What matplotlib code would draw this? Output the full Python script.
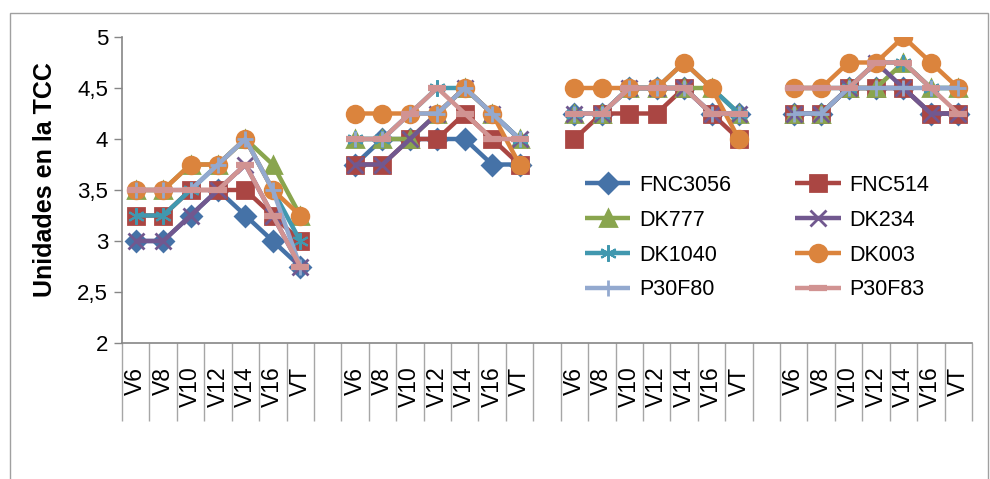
import numpy as np
import matplotlib
matplotlib.use("Agg")
import matplotlib.pyplot as plt
from matplotlib.patches import Rectangle
from matplotlib.ticker import FuncFormatter, FixedLocator

plt.rcParams['font.family'] = ['Liberation Sans', 'DejaVu Sans']

stages = ["V6", "V8", "V10", "V12", "V14", "V16", "VT"]
n_groups = 4

series_names = ["FNC3056", "FNC514", "DK777", "DK234", "DK1040", "DK003", "P30F80", "P30F83"]

FNC3056 = [3, 3, 3.25, 3.5, 3.25, 3, 2.75,
           3.75, 4, 4, 4, 4, 3.75, 3.75,
           4.25, 4.25, 4.5, 4.5, 4.5, 4.25, 4.25,
           4.25, 4.25, 4.5, 4.5, 4.5, 4.25, 4.25]
FNC514 = [3.25, 3.25, 3.5, 3.5, 3.5, 3.25, 3,
          3.75, 3.75, 4, 4, 4.25, 4, 3.75,
          4, 4.25, 4.25, 4.25, 4.5, 4.25, 4,
          4.25, 4.25, 4.5, 4.5, 4.5, 4.25, 4.25]
DK777 = [3.5, 3.5, 3.75, 3.75, 4, 3.75, 3.25,
         4, 4, 4, 4.25, 4.5, 4.25, 4,
         4.25, 4.25, 4.5, 4.5, 4.5, 4.5, 4.25,
         4.25, 4.25, 4.5, 4.5, 4.75, 4.5, 4.5]
DK234 = [3, 3, 3.25, 3.5, 3.75, 3.25, 2.75,
         3.75, 3.75, 4, 4.25, 4.5, 4.25, 4,
         4.25, 4.25, 4.5, 4.5, 4.5, 4.25, 4.25,
         4.25, 4.25, 4.5, 4.75, 4.5, 4.25, 4.25]
DK1040 = [3.25, 3.25, 3.5, 3.75, 4, 3.5, 3,
          4, 4, 4.25, 4.5, 4.5, 4.25, 4,
          4.25, 4.25, 4.5, 4.5, 4.75, 4.5, 4.25,
          4.5, 4.5, 4.5, 4.75, 4.75, 4.5, 4.5]
DK003 = [3.5, 3.5, 3.75, 3.75, 4, 3.5, 3.25,
         4.25, 4.25, 4.25, 4.25, 4.5, 4.25, 3.75,
         4.5, 4.5, 4.5, 4.5, 4.75, 4.5, 4,
         4.5, 4.5, 4.75, 4.75, 5, 4.75, 4.5]
P30F80 = [3.5, 3.5, 3.5, 3.75, 4, 3.5, 2.75,
          4, 4, 4.25, 4.25, 4.5, 4.25, 4,
          4.25, 4.25, 4.5, 4.5, 4.5, 4.25, 4.25,
          4.25, 4.25, 4.5, 4.5, 4.5, 4.5, 4.5]
P30F83 = [3.5, 3.5, 3.5, 3.5, 3.75, 3.25, 2.75,
          4, 4, 4.25, 4.5, 4.25, 4, 4,
          4.25, 4.25, 4.5, 4.5, 4.5, 4.25, 4.25,
          4.5, 4.5, 4.5, 4.75, 4.75, 4.5, 4.25]

data = [FNC3056, FNC514, DK777, DK234, DK1040, DK003, P30F80, P30F83]

colors = ['#4572A7', '#AA4643', '#89A54E', '#71588F', '#4198AF', '#DB843D', '#93A9CF', '#D19392']
markers = ['D', 's', '^', 'x', (6, 2, 0), 'o', '+', '_']
msizes = [10, 12, 11, 11, 12, 12, 12, 13]

W, H = 990, 479
fig = plt.figure(figsize=(W / 100, H / 100), dpi=100)

def fx(px):
    return px / W

def fy(py):
    return 1 - py / H

ax_l, ax_r, ax_t, ax_b = 122, 972, 37, 343
ax = fig.add_axes([fx(ax_l), fy(ax_b), fx(ax_r - ax_l), (ax_b - ax_t) / H])

# positions with a blank category between groups
n_stage = len(stages)
positions = []
for g in range(n_groups):
    for i in range(n_stage):
        positions.append(g * (n_stage + 1) + i)
total = n_groups * (n_stage + 1) - 1
tick_labels = [''] * total
for g in range(n_groups):
    for i, s in enumerate(stages):
        tick_labels[g * (n_stage + 1) + i] = s

for name, vals, c, m, ms in zip(series_names, data, colors, markers, msizes):
    y = np.full(total, np.nan)
    for p, v in zip(positions, vals):
        y[p] = v
    mew = 2.0
    if m == '_':
        mew = 4.5
    if m == (6, 2, 0):
        mew = 1.5
    ax.plot(np.arange(total), y, color=c, lw=3.2, marker=m, markersize=ms,
            markerfacecolor=c, markeredgecolor=c, markeredgewidth=mew,
            label=name, solid_capstyle='butt')

ax.set_xlim(-0.5, total - 0.5)
ax.set_ylim(2, 5)
ax.set_yticks(np.arange(2, 5.01, 0.5))
ax.yaxis.set_major_formatter(FuncFormatter(lambda v, p: (f"{v:g}").replace('.', ',')))

ax.set_xticks(np.arange(total))
ax.set_xticklabels(tick_labels, rotation=90, fontsize=16.5)
ax.xaxis.set_minor_locator(FixedLocator(np.arange(-0.5, total, 1.0)))
ax.tick_params(axis='x', which='major', length=0, pad=17)
ax.tick_params(axis='x', which='minor', length=56, width=1, color='#a6a6a6', direction='out')
ax.tick_params(axis='y', which='major', length=6, width=1, color='#868686', labelsize=16, pad=4)

for s in ['top', 'right']:
    ax.spines[s].set_visible(False)
for s in ['left', 'bottom']:
    ax.spines[s].set_color('#868686')
    ax.spines[s].set_linewidth(1.2)

fig.text(fx(45), fy(180), "Unidades en la TCC", rotation=90, fontsize=18,
         fontweight='bold', ha='center', va='center')

order = [0, 2, 4, 6, 1, 3, 5, 7]
handles, labs = ax.get_legend_handles_labels()
leg = ax.legend([handles[i] for i in order], [labs[i] for i in order],
                loc='upper left', bbox_to_anchor=(fx(585), fy(175)),
                bbox_transform=fig.transFigure, ncol=2, frameon=False,
                fontsize=15.5, handlelength=2.1, handletextpad=0.4,
                columnspacing=3.0, labelspacing=0.64, borderaxespad=0, borderpad=0)

fig.patches.append(Rectangle((fx(10), fy(490)), fx(978), (490 - 13) / H,
                             transform=fig.transFigure, fill=False,
                             edgecolor='#a0a0a0', lw=1))

fig.savefig("out.png", dpi=100)
